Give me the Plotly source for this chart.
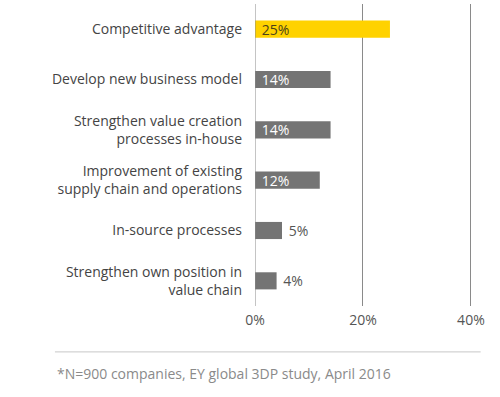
import plotly.graph_objects as go

categories = [
    "Competitive advantage",
    "Develop new business model",
    "Strengthen value creation<br>processes in-house",
    "Improvement of existing<br>supply chain and operations",
    "In-source processes",
    "Strengthen own position in<br>value chain",
]
values = [25, 14, 14, 12, 5, 4]
bar_colors = ["#FFD200", "#747474", "#747474", "#747474", "#747474", "#747474"]
x_ticks = [0, 20, 40]
x_tick_labels = ["0%", "20%", "40%"]
footnote = "*N=900 companies, EY global 3DP study, April 2016"

labels = [f" {v}%" for v in values]
positions = ["inside" if v >= 10 else "outside" for v in values]
text_colors = ["#4a3f1a" if c == "#FFD200" else ("#ffffff" if p == "inside" else "#555555")
               for c, p in zip(bar_colors, positions)]

FONT = "Open Sans"

fig = go.Figure(go.Bar(
    x=values, y=categories, orientation="h",
    marker=dict(color=bar_colors, line=dict(width=0)),
    width=0.34,
    text=labels, textposition=positions, insidetextanchor="start",
    textfont=dict(family=FONT, size=14, color=text_colors),
    cliponaxis=False, hoverinfo="skip",
))

fig.update_layout(
    width=500, height=397,
    margin=dict(l=255, r=28, t=4, b=91, autoexpand=False),
    paper_bgcolor="white", plot_bgcolor="white",
    showlegend=False,
    font=dict(family=FONT, size=14, color="#444444"),
    uniformtext=dict(minsize=14, mode="show"),
    xaxis=dict(range=[0, 40.2], tickvals=x_ticks, ticktext=x_tick_labels,
               showgrid=True, gridcolor="#8a8a8a", gridwidth=1,
               zeroline=False, showline=False, ticks="", automargin=False,
               ticklabelstandoff=4,
               tickfont=dict(family=FONT, size=14, color="#555555")),
    yaxis=dict(range=[5.5, -0.5], showgrid=False, zeroline=False,
               showline=False, ticks="", ticklabelstandoff=12, automargin=False,
               tickfont=dict(family=FONT, size=14, color="#444444")),
)

fig.add_shape(type="line", xref="x", yref="paper", x0=0, x1=0, y0=0, y1=1,
              line=dict(color="#8a8a8a", width=1))
fig.add_shape(type="line", xref="paper", yref="paper",
              x0=-0.922, x1=1.04, y0=-0.152, y1=-0.152,
              line=dict(color="#c8c8c8", width=1))
fig.add_annotation(text=footnote, xref="paper", yref="paper",
                   x=-0.922, y=-0.222, xanchor="left", yanchor="middle",
                   showarrow=False, font=dict(family=FONT, size=14, color="#8a8a8a"))

fig.write_html("out.html", config={"displayModeBar": False},
               post_script="document.body.style.margin='0';document.body.style.overflow='hidden';")
